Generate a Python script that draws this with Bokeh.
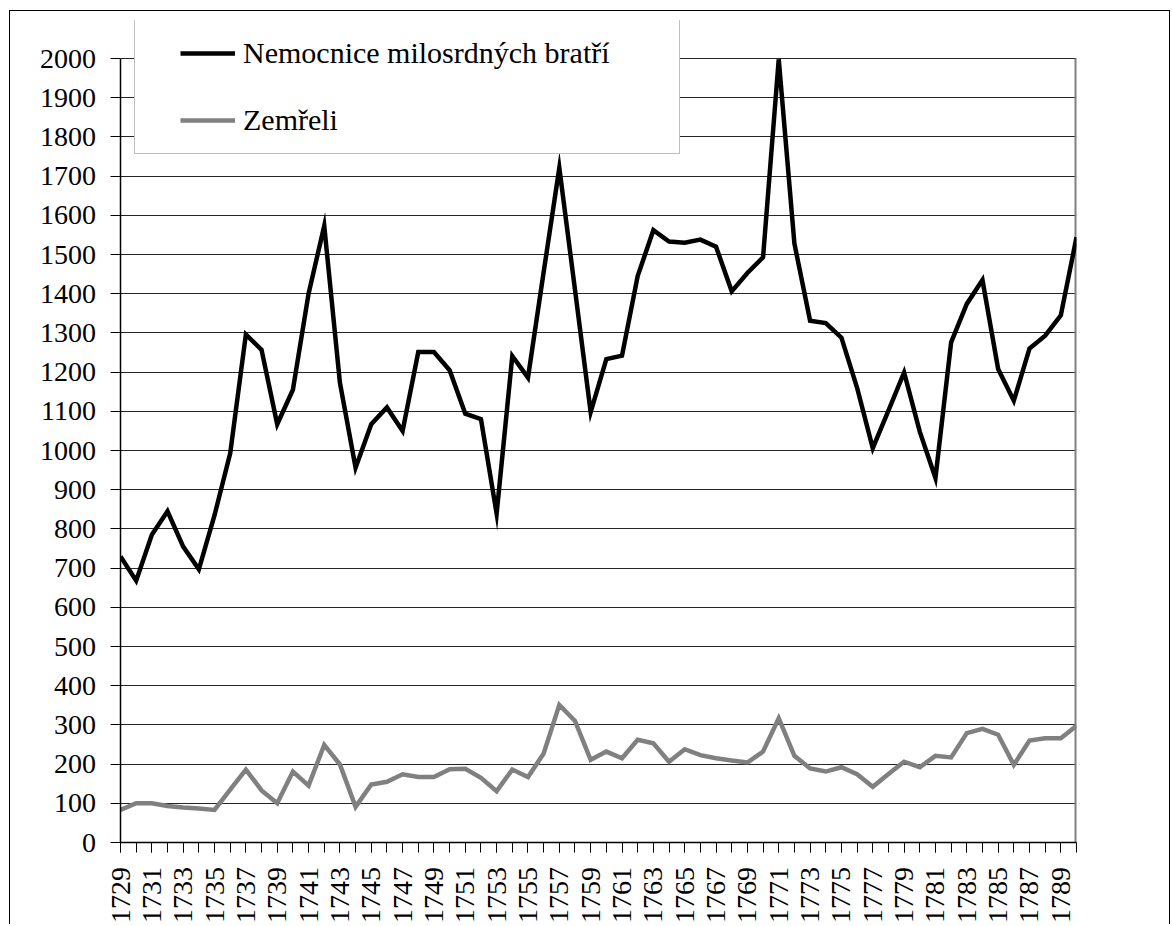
import math
from bokeh.plotting import figure
from bokeh.models import Range1d, FixedTicker, Legend, LegendItem, GlobalInlineStyleSheet
from bokeh.embed import file_html
from bokeh.resources import INLINE

# ---- data ----
years = list(range(1729, 1791))
nemocnice = [730, 668, 785, 845, 755, 697, 835, 993, 1296, 1257,
             1067, 1155, 1400, 1573, 1173, 956, 1067, 1110, 1050, 1251,
             1251, 1205, 1094, 1080, 839, 1241, 1186, 1455, 1721, 1410,
             1098, 1233, 1242, 1445, 1562, 1533, 1530, 1538, 1520, 1406,
             1453, 1493, 1998, 1528, 1331, 1325, 1288, 1160, 1006, 1102,
             1199, 1048, 930, 1276, 1374, 1435, 1208, 1127, 1260, 1293,
             1345, 1544]
zemreli = [83, 100, 100, 93, 89, 87, 83, 135, 186, 133,
           100, 181, 145, 249, 199, 91, 148, 155, 174, 167,
           167, 187, 188, 165, 131, 186, 167, 227, 351, 310,
           211, 232, 215, 262, 253, 206, 238, 223, 215, 209,
           204, 232, 317, 221, 189, 181, 192, 174, 142, 175,
           206, 192, 221, 217, 279, 290, 275, 198, 260, 266,
           266, 298]
y_ticks = list(range(0, 2001, 100))
x_label_years = list(range(1729, 1791, 2))
series_names = ["Nemocnice milosrdných bratří", "Zemřeli"]
y_top = 2000

FONT = "Liberation Serif, Times New Roman, Times, DejaVu Serif, serif"
AXFONT = "SerifTNR"
font_css = ('@font-face { font-family: "SerifTNR"; '
            'src: local("Liberation Serif"), local("LiberationSerif"), '
            'local("Times New Roman"), local("Tinos"), local("Nimbus Roman"), '
            'local("NimbusRoman-Regular"); }')

p = figure(width=1161, height=914, output_backend="svg", toolbar_location=None,
           x_range=Range1d(1729, 1790), y_range=Range1d(0, 2097),
           min_border_left=110, min_border_right=95, min_border_top=9,
           min_border_bottom=83)
p.stylesheets = [GlobalInlineStyleSheet(css=font_css)]
p.styles = {"margin-left": "9px", "margin-top": "10px",
            "border-left": "1px solid #000000",
            "border-top": "1px solid #000000",
            "border-right": "1px solid #000000"}
p.background_fill_color = "white"
p.border_fill_color = "white"
p.outline_line_color = None

xax = p.xaxis[0]
yax = p.yaxis[0]

# x axis
xax.ticker = FixedTicker(ticks=x_label_years, minor_ticks=years)
xax.major_tick_out = 10
xax.major_tick_in = 0
xax.minor_tick_out = 10
xax.minor_tick_in = 0
xax.major_tick_line_color = "black"
xax.minor_tick_line_color = "black"
xax.axis_line_color = "black"
xax.axis_line_width = 1.5
xax.major_label_orientation = math.pi / 2
xax.major_label_standoff = 14
xax.major_label_text_font = AXFONT
xax.major_label_text_font_size = "28px"
xax.major_label_text_color = "black"

# y axis
yax.ticker = FixedTicker(ticks=y_ticks)
yax.bounds = (0, y_top)
yax.major_tick_out = 10
yax.major_tick_in = 0
yax.minor_tick_line_color = None
yax.major_tick_line_color = "black"
yax.axis_line_color = "black"
yax.axis_line_width = 1.5
yax.major_label_standoff = 15
yax.major_label_text_font = AXFONT
yax.major_label_text_font_size = "28px"
yax.major_label_text_color = "black"

p.xgrid.visible = False
p.ygrid.grid_line_color = "black"
p.ygrid.grid_line_width = 1
p.ygrid.grid_line_alpha = 0.85

# plot-area border on the right side (top side is the 2000 grid line)
p.segment(x0=[1790], y0=[0], x1=[1790], y1=[y_top], line_color="#808080", line_width=4)

r2 = p.line(years, zemreli, line_color="#808080", line_width=4.5, line_join="miter")
r1 = p.line(years, nemocnice, line_color="black", line_width=4.5, line_join="miter")

legend = Legend(items=[LegendItem(label=series_names[0], renderers=[r1]),
                       LegendItem(label=series_names[1], renderers=[r2])],
                location=(14, 688), margin=0,
                border_line_color="#808080", border_line_width=1.5,
                background_fill_color="white", background_fill_alpha=1.0,
                padding=16, spacing=33, glyph_width=55, glyph_height=32,
                label_height=32, label_standoff=8, label_width=420,
                label_text_font=FONT, label_text_font_size="30px",
                label_text_color="black",
                title=" ", title_location="left", title_text_font_size="10px",
                title_standoff=18)
p.add_layout(legend)

open("out.html", "w").write(file_html(p, INLINE))
